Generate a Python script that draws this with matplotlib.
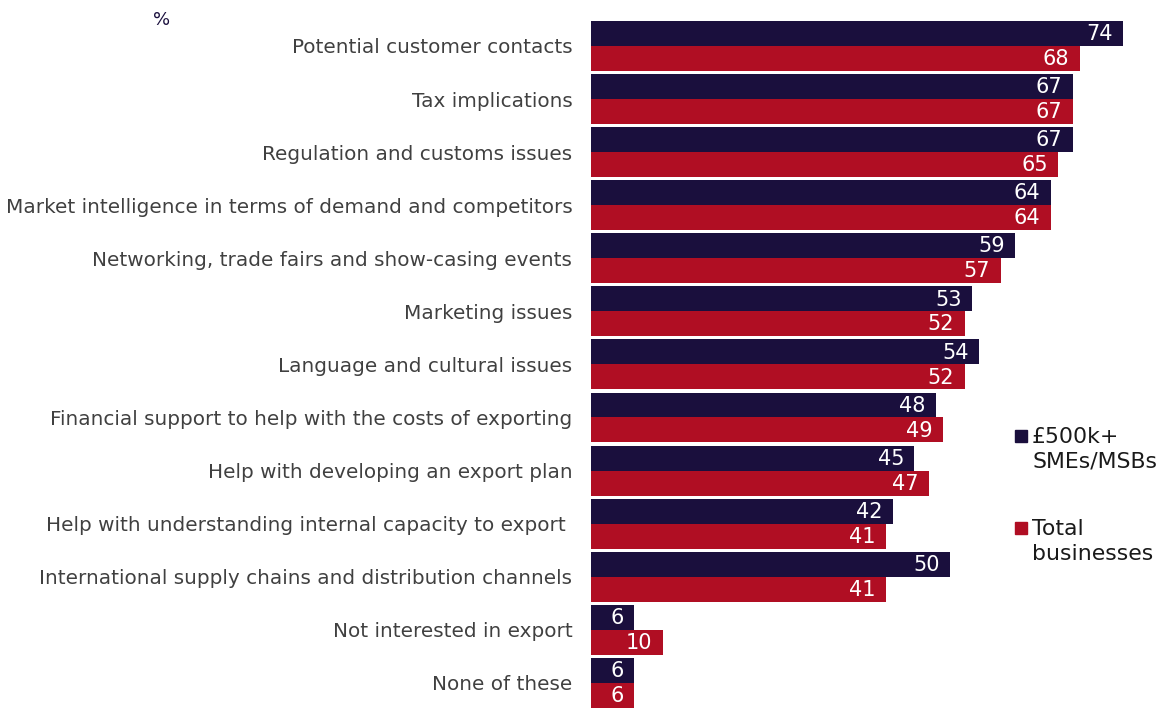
import matplotlib
matplotlib.use("Agg")
import matplotlib.pyplot as plt
from matplotlib.patches import Rectangle
import numpy as np

categories = [
    "Potential customer contacts",
    "Tax implications",
    "Regulation and customs issues",
    "Market intelligence in terms of demand and competitors",
    "Networking, trade fairs and show-casing events",
    "Marketing issues",
    "Language and cultural issues",
    "Financial support to help with the costs of exporting",
    "Help with developing an export plan",
    "Help with understanding internal capacity to export ",
    "International supply chains and distribution channels",
    "Not interested in export",
    "None of these",
]
sme_500k = [74, 67, 67, 64, 59, 53, 54, 48, 45, 42, 50, 6, 6]
total_businesses = [68, 67, 65, 64, 57, 52, 52, 49, 47, 41, 41, 10, 6]
series_names = ["£500k+\nSMEs/MSBs", "Total\nbusinesses"]

NAVY = "#1a0f3d"
RED = "#b00e23"
LABEL_GREY = "#404040"

plt.rcParams["font.family"] = ["DejaVu Sans"]

W, H = 1168, 708
fig = plt.figure(figsize=(W / 100, H / 100), dpi=100)
top_px, bottom_px = 21, 711
ax = fig.add_axes([591 / W, (H - bottom_px) / H, (1166 - 591) / W, (bottom_px - top_px) / H])

y = np.arange(len(categories))
h = 0.47
b1 = ax.barh(y - 0.265, sme_500k, height=h, color=NAVY, edgecolor="none")
b2 = ax.barh(y + 0.205, total_businesses, height=h, color=RED, edgecolor="none")

ax.set_xlim(0, 80)
ax.set_ylim(len(categories) - 0.5, -0.5)
for s in ax.spines.values():
    s.set_visible(False)
ax.set_xticks([])
ax.set_yticks(y - 0.03)
ax.set_yticklabels(categories, fontsize=14.4, color=LABEL_GREY)
ax.tick_params(axis="y", length=0, pad=13.5)

for bars, vals in ((b1, sme_500k), (b2, total_businesses)):
    for bar, v in zip(bars, vals):
        ax.annotate(str(v), xy=(v, bar.get_y() + bar.get_height() / 2),
                    xytext=(-7.5, -0.5), textcoords="offset points",
                    ha="right", va="center", color="white", fontsize=15)

fig.text(162 / W, 1 - 20 / H, "%", color=NAVY, fontsize=13, ha="center", va="center")

# legend drawn by hand so the swatch sits beside the first text line
for (ypx, colr, name) in ((436, NAVY, series_names[0]), (528, RED, series_names[1])):
    fig.patches.append(Rectangle((1015 / W, 1 - (ypx + 6) / H), 12 / W, 12 / H,
                                 transform=fig.transFigure, color=colr))
    fig.text(1032 / W, 1 - (ypx - 9) / H, name, fontsize=15.8, color="#1a1a1a",
             ha="left", va="top", linespacing=1.3)

fig.savefig("out.png", dpi=100)
